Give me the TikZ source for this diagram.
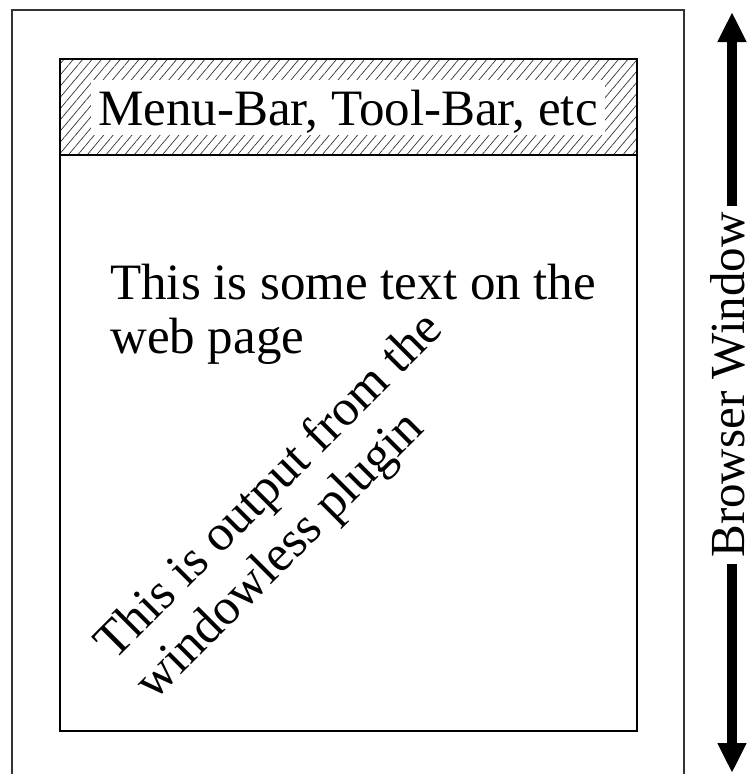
\documentclass[tikz,border=0pt]{standalone}
\usepackage{fontspec}
\setmainfont{Liberation Serif}
\usetikzlibrary{arrows.meta,patterns.meta}
\begin{document}
\begin{tikzpicture}[x=1pt,y=-1pt,
  outer/.style={draw=black!80, line width=1.3pt},
  page/.style={draw=black, line width=1.6pt},
  bigtext/.style={font=\fontsize{51}{56}\selectfont, inner sep=0pt},
  bigarrow/.style={line width=10pt, -{Triangle[length=30pt,width=27pt]}},
]
\useasboundingbox (0,0) rectangle (749,774);
\draw[outer] (12,774) -- (12,10) -- (684,10) -- (684,774);
\path[pattern={Lines[angle=50,distance=7.2pt,line width=0.7pt]}, pattern color=black!80] (60,59) rectangle (637,155);
\draw[page] (60,59) rectangle (637,731);
\draw[page] (60,155) -- (637,155);
\node[bigtext, fill=white, inner xsep=7pt, text height=45pt, text depth=10pt, anchor=base] (menu) at (348,125) {Menu-Bar, Tool-Bar, etc};
\node[bigtext, anchor=base west] (t1) at (110,299) {This is some text on the};
\node[bigtext, anchor=base west] (t2) at (110,353) {web page};
\node[bigtext, rotate=45, anchor=base west] (p1) at (114,662) {This is output from the};
\node[bigtext, rotate=45, anchor=base west] (p2) at (154,702) {windowless plugin};
\node[font=\fontsize{49}{56}\selectfont, rotate=90, anchor=base, inner xsep=6pt, inner ysep=0pt] (bw) at (744,385) {Browser Window};
\coordinate (top) at (732,12);
\coordinate (bot) at (732,773);
\draw[bigarrow] (bw.east -| top) -- (top);
\draw[bigarrow] (bw.west -| bot) -- (bot);
\end{tikzpicture}
\end{document}
